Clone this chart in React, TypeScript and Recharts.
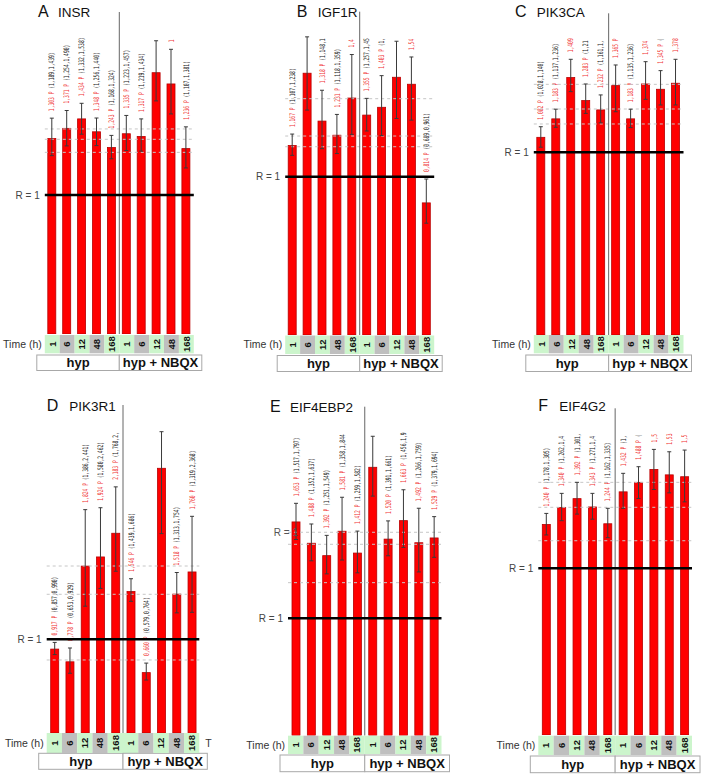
import React from "react";
import { ComposedChart, Bar, ErrorBar, XAxis, YAxis, ReferenceLine } from "recharts";

const FONT = "'Liberation Sans', Arial, sans-serif";

// shared x categories
const timeLabels = ["1", "6", "12", "48", "168", "1", "6", "12", "48", "168"];
const groupLabels = ["hyp", "hyp + NBQX"];

// A  INSR
const insrMean = [1.303, 1.371, 1.434, 1.348, 1.243, 1.335, 1.317, 1.742, 1.667, 1.236];
const insrLow = [1.189, 1.254, 1.332, 1.256, 1.168, 1.223, 1.219, 1.554, 1.467, 1.107];
const insrHigh = [1.439, 1.49, 1.538, 1.44, 1.324, 1.457, 1.434, 1.955, 1.898, 1.381];
const insrGuides = [1.367, 1.298, 1.211];

// B  IGF1R
const igf1rMean = [1.167, 1.613, 1.318, 1.231, 1.46, 1.355, 1.403, 1.588, 1.545, 0.814];
const igf1rLow = [1.107, 1.386, 1.148, 1.118, 1.236, 1.257, 1.229, 1.334, 1.324, 0.689];
const igf1rHigh = [1.238, 1.837, 1.508, 1.359, 1.728, 1.458, 1.598, 1.81, 1.713, 0.961];
const igf1rGuides = [1.456, 1.226, 1.16];

// C  PIK3CA
const pik3caMean = [1.082, 1.183, 1.409, 1.283, 1.232, 1.365, 1.183, 1.374, 1.345, 1.378];
const pik3caLow = [1.028, 1.137, 1.332, 1.213, 1.161, 1.222, 1.135, 1.29, 1.259, 1.259];
const pik3caHigh = [1.14, 1.236, 1.509, 1.374, 1.314, 1.478, 1.236, 1.496, 1.447, 1.509];
const pik3caGuides = [1.372, 1.237, 1.155];

// D  PIK3R1
const pik3r1Mean = [0.917, 0.778, 1.824, 1.924, 2.183, 1.546, 0.66, 2.893, 1.518, 1.76];
const pik3r1Low = [0.857, 0.653, 1.386, 1.58, 1.768, 1.439, 0.579, 2.179, 1.313, 1.319];
const pik3r1High = [0.99, 0.929, 2.441, 2.462, 2.69, 1.686, 0.764, 3.293, 1.754, 2.368];
const pik3r1Guides = [1.825, 1.516, 0.798];

// E  EIF4EBP2
const eif4ebp2Mean = [1.653, 1.488, 1.392, 1.581, 1.412, 2.076, 1.52, 1.663, 1.492, 1.529];
const eif4ebp2Low = [1.517, 1.352, 1.251, 1.358, 1.259, 1.853, 1.391, 1.456, 1.266, 1.379];
const eif4ebp2High = [1.797, 1.637, 1.549, 1.844, 1.582, 2.316, 1.661, 1.902, 1.759, 1.694];
const eif4ebp2Guides = [1.573, 1.48, 1.183];

// F  EIF4G2
const eif4g2Mean = [1.24, 1.34, 1.392, 1.343, 1.244, 1.432, 1.488, 1.564, 1.532, 1.521];
const eif4g2Low = [1.178, 1.262, 1.301, 1.271, 1.162, 1.335, 1.393, 1.446, 1.426, 1.373];
const eif4g2High = [1.305, 1.423, 1.488, 1.423, 1.335, 1.541, 1.58, 1.682, 1.668, 1.678];
const eif4g2Guides = [1.488, 1.341, 1.144];

const AXIS_H = 40;
const CHAR_W = 2.8; // squeezed width of one label character
const LABEL_GAP = 7;

interface PanelCfg {
  id: string;
  letter: string;
  gene: string;
  mean: number[];
  low: number[];
  high: number[];
  guides: number[];
  rLine: number; // where the "R = 1" line sits on the value axis
  x0: number; y0: number; w: number; h: number;
  bandLeft: number; bandW: number;
  plotTop: number; plotBottom: number; pxPerUnit: number;
  timeTop: number; timeH: number; groupTop: number; groupH: number;
  titleX: number; titleY: number; geneX: number;
  ghostR?: boolean; // stray "R = 1" on the first guide (panel E)
  strayT?: boolean; // clipped "T" at the right of the time row (panel D)
}

const panels: PanelCfg[] = [
  {
    id: "a", letter: "A", gene: "INSR", mean: insrMean, low: insrLow, high: insrHigh, guides: insrGuides,
    rLine: 0.927, x0: 0, y0: 0, w: 235, h: 385, bandLeft: 44.8, bandW: 14.9,
    plotTop: 12, plotBottom: 334, pxPerUnit: 150, timeTop: 335, timeH: 18.3, groupTop: 355, groupH: 15.5,
    titleX: 38, titleY: 17, geneX: 58,
  },
  {
    id: "b", letter: "B", gene: "IGF1R", mean: igf1rMean, low: igf1rLow, high: igf1rHigh, guides: igf1rGuides,
    rLine: 0.975, x0: 235, y0: 0, w: 235, h: 385, bandLeft: 285.2, bandW: 14.9,
    plotTop: 11.7, plotBottom: 335, pxPerUnit: 162.3, timeTop: 335.5, timeH: 18.5, groupTop: 355.5, groupH: 16,
    titleX: 296.7, titleY: 16.7, geneX: 317.7,
  },
  {
    id: "c", letter: "C", gene: "PIK3CA", mean: pik3caMean, low: pik3caLow, high: pik3caHigh, guides: pik3caGuides,
    rLine: 1.0, x0: 470, y0: 0, w: 233, h: 385, bandLeft: 533.8, bandW: 14.97,
    plotTop: 13.3, plotBottom: 335, pxPerUnit: 182.7, timeTop: 335, timeH: 18.3, groupTop: 355, groupH: 16.5,
    titleX: 515, titleY: 17.3, geneX: 536.7,
  },
  {
    id: "d", letter: "D", gene: "PIK3R1", mean: pik3r1Mean, low: pik3r1Low, high: pik3r1High, guides: pik3r1Guides,
    rLine: 1.024, x0: 0, y0: 385, w: 235, h: 391, bandLeft: 46.7, bandW: 15.26,
    plotTop: 405, plotBottom: 733, pxPerUnit: 91.5, timeTop: 733, timeH: 20, groupTop: 753.3, groupH: 16,
    titleX: 46.7, titleY: 410.7, geneX: 69.3, strayT: true,
  },
  {
    id: "e", letter: "E", gene: "EIF4EBP2", mean: eif4ebp2Mean, low: eif4ebp2Low, high: eif4ebp2High, guides: eif4ebp2Guides,
    rLine: 0.907, x0: 235, y0: 385, w: 235, h: 391, bandLeft: 288, bandW: 15.35,
    plotTop: 406.7, plotBottom: 735.5, pxPerUnit: 129.2, timeTop: 735.7, timeH: 18.3, groupTop: 755, groupH: 16.7,
    titleX: 270, titleY: 411.7, geneX: 290, ghostR: true,
  },
  {
    id: "f", letter: "F", gene: "EIF4G2", mean: eif4g2Mean, low: eif4g2Low, high: eif4g2High, guides: eif4g2Guides,
    rLine: 0.982, x0: 470, y0: 385, w: 233, h: 391, bandLeft: 538.3, bandW: 15.37,
    plotTop: 408.3, plotBottom: 735, pxPerUnit: 169.8, timeTop: 735.7, timeH: 19.3, groupTop: 756, groupH: 16.7,
    titleX: 538.3, titleY: 410.7, geneX: 559.3,
  },
];

const fmt = (n: number) => n.toFixed(3).replace(".", ",");

function Panel({ cfg }: { cfg: PanelCfg }) {
  const plotRight = cfg.bandLeft + 10 * cfg.bandW;
  const margin = {
    top: cfg.plotTop - cfg.y0,
    left: cfg.bandLeft - cfg.x0,
    right: cfg.x0 + cfg.w - plotRight,
    bottom: cfg.y0 + cfg.h - cfg.plotBottom - AXIS_H,
  };
  const yMax = (cfg.plotBottom - cfg.plotTop) / cfg.pxPerUnit;
  const data = cfg.mean.map((v, i) => ({
    pos: i + 1,
    v,
    lo: cfg.low[i],
    hi: cfg.high[i],
    err: [v - cfg.low[i], cfg.high[i] - v],
  }));
  // the source figure crops these labels a little below the panel top
  const labelTop = cfg.plotTop + 25 - cfg.y0;

  // bar with its rotated "value P (lo,hi)" label
  const renderBar = (props: any) => {
    const { x, y, width, height, payload } = props;
    if (!payload || !(height > 0)) return <g />;
    const k = height / payload.v;
    const base = y + height;
    const start = base - payload.hi * k - LABEL_GAP;
    const cx = x + width / 2;
    const red = `${fmt(payload.v)} P`;
    const ci = ` (${fmt(payload.lo)},${fmt(payload.hi)})`;
    const full = red + ci;
    const fit = Math.max(0, Math.min(full.length, Math.floor((start - labelTop) / CHAR_W)));
    const shown = full.slice(0, fit).replace(/\s+$/, "");
    const redPart = shown.slice(0, red.length);
    const ciPart = shown.slice(red.length);
    return (
      <g>
        <rect x={x} y={y} width={width} height={height} fill="#ff0000" stroke="#b80000" strokeWidth={0.8} />
        {shown.length > 0 && (
          <text
            transform={`translate(${cx},${start}) rotate(-90)`}
            dy="0.35em"
            fontFamily="'DejaVu Sans Mono', monospace"
            fontSize={7.5}
            textLength={shown.length * CHAR_W}
            lengthAdjust="spacingAndGlyphs"
          >
            <tspan fill="#f03434">{redPart}</tspan>
            {ciPart.length > 0 && <tspan fill="#222">{ciPart}</tspan>}
          </text>
        )}
      </g>
    );
  };

  // time cell + (first / sixth tick) group box
  const renderTick = (props: any) => {
    const { x, y, payload } = props;
    const i = Math.round(payload.value) - 1;
    const bw = cfg.bandW;
    const tTop = y + (cfg.timeTop - cfg.plotBottom);
    const gTop = y + (cfg.groupTop - cfg.plotBottom);
    const gray = i % 5 === 1 || i % 5 === 3;
    const left = x - bw / 2;
    return (
      <g>
        <rect x={left} y={tTop} width={bw} height={cfg.timeH} fill={gray ? "#bfbfbf" : "#ccf5cc"} />
        <text
          transform={`translate(${x},${tTop + cfg.timeH / 2}) rotate(-90)`}
          textAnchor="middle"
          dy="0.35em"
          fontFamily={FONT}
          fontWeight="bold"
          fontSize={9.5}
          fill="#111"
        >
          {timeLabels[i]}
        </text>
        {i === 0 && (
          <text x={left - 3} y={tTop + cfg.timeH / 2} dy="0.35em" textAnchor="end" fontFamily={FONT} fontSize={10.5} fill="#333">
            Time (h)
          </text>
        )}
        {i === 0 && (
          <g>
            <rect x={left - 8} y={gTop} width={5 * bw + 8} height={cfg.groupH} fill="#fff" stroke="#a8a8a8" />
            <text x={left - 4 + 2.5 * bw} y={gTop + cfg.groupH / 2} dy="0.35em" textAnchor="middle" fontFamily={FONT} fontWeight="bold" fontSize={13} fill="#111">
              {groupLabels[0]}
            </text>
          </g>
        )}
        {i === 5 && (
          <g>
            <rect x={left} y={gTop} width={5 * bw + 8} height={cfg.groupH} fill="#fff" stroke="#a8a8a8" />
            <text x={left + 4 + 2.5 * bw} y={gTop + cfg.groupH / 2} dy="0.35em" textAnchor="middle" fontFamily={FONT} fontWeight="bold" fontSize={13} fill="#111">
              {groupLabels[1]}
            </text>
          </g>
        )}
        {i === 9 && cfg.strayT && (
          <text x={x + bw / 2 + 6} y={tTop + cfg.timeH / 2} dy="0.35em" fontFamily={FONT} fontSize={10.5} fill="#333">
            T
          </text>
        )}
      </g>
    );
  };

  return (
    <div style={{ position: "absolute", left: cfg.x0, top: cfg.y0, width: cfg.w, height: cfg.h, overflow: "hidden" }}>
      <ComposedChart width={cfg.w} height={cfg.h} data={data} margin={margin}>
        <XAxis
          dataKey="pos"
          type="number"
          domain={[0.5, 10.5]}
          ticks={[1, 2, 3, 4, 5, 6, 7, 8, 9, 10]}
          interval={0}
          axisLine={false}
          tickLine={false}
          tickSize={0}
          tickMargin={0}
          height={AXIS_H}
          tick={renderTick}
        />
        <YAxis hide type="number" domain={[0, yMax]} allowDataOverflow width={0} />
        {cfg.guides.map((g, i) => (
          <ReferenceLine
            key={`g${i}`}
            y={g}
            stroke="#c6c6c6"
            strokeDasharray="3 3"
            label={
              cfg.ghostR && i === 0
                ? { value: "R = 1", position: "left", offset: -10, fill: "#555", fontSize: 10, fontFamily: FONT }
                : undefined
            }
          />
        ))}
        <ReferenceLine x={5.5} stroke="#666" strokeWidth={1} />
        <Bar dataKey="v" barSize={8} isAnimationActive={false} shape={renderBar}>
          <ErrorBar dataKey="err" width={2} stroke="#3a3a3a" strokeWidth={1} direction="y" isAnimationActive={false} />
        </Bar>
        <ReferenceLine
          y={cfg.rLine}
          stroke="#000"
          strokeWidth={2.5}
          zIndex={1500}
          label={{ value: "R = 1", position: "left", offset: 5, fill: "#444", fontSize: 10, fontFamily: FONT }}
        />
      </ComposedChart>
    </div>
  );
}

export default function App() {
  return (
    <div style={{ position: "absolute", left: 0, top: 0, width: 703, height: 776, background: "#fff", overflow: "hidden" }}>
      {panels.map((p) => (
        <Panel key={p.id} cfg={p} />
      ))}
      <svg width={703} height={776} style={{ position: "absolute", left: 0, top: 0, pointerEvents: "none" }}>
        {panels.map((p) => (
          <g key={p.id} fontFamily={FONT} fill="#111">
            <text x={p.titleX} y={p.titleY} fontSize={16}>
              {p.letter}
            </text>
            <text x={p.geneX} y={p.titleY} fontSize={13.5}>
              {p.gene}
            </text>
          </g>
        ))}
      </svg>
    </div>
  );
}
